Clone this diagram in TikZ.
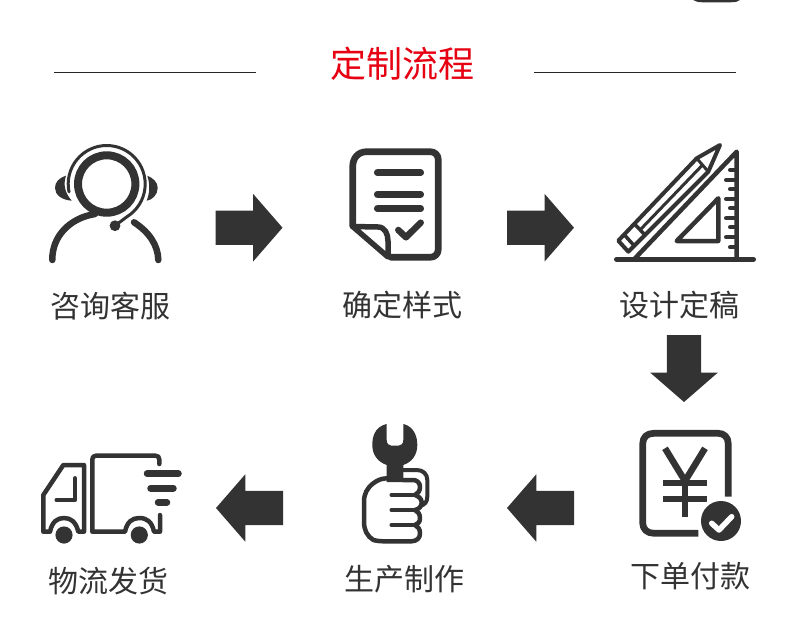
\documentclass[tikz,border=0pt]{standalone}
\usepackage{fontspec}
\setmainfont{Noto Sans CJK SC}
\usetikzlibrary{shapes.arrows}
\definecolor{ink}{HTML}{333333}
\definecolor{titlered}{HTML}{E60012}
\tikzset{
  blockarrow/.style={single arrow,fill=ink,draw=none,inner sep=0pt,outer sep=0pt,text width=34pt,text height=34pt,text depth=0pt,minimum height=67pt,
    single arrow head extend=16.5pt,single arrow tip angle=98,single arrow head indent=0pt,anchor=tip},
  flowlabel/.style={text=ink,font=\fontsize{30}{30}\selectfont,anchor=center,inner sep=0pt},
  icon/.style={draw=ink,line cap=round,line join=round,fill=none},
  rulebar/.style={draw=black!85,line width=1pt},
}
\begin{document}
\begin{tikzpicture}[x=1pt,y=-1pt]
\useasboundingbox (0,0) rectangle (790,634);
\fill[white] (0,0) rectangle (790,634);
% top sliver
\fill[ink] (693,0) .. controls (696,1.5) and (698,2.3) .. (703,2.3) -- (730,2.3) .. controls (736,2.3) and (738,1.5) .. (740,0) -- cycle;
% title
\node[text=titlered,font=\fontsize{36}{36}\selectfont,inner sep=0pt] (title) at (402,64) {定制流程};
\coordinate (la) at (54,72.5); \coordinate (lb) at (256,72.5);
\coordinate (lc) at (534,72.5); \coordinate (ld) at (736,72.5);
\draw[rulebar] (la) -- (lb);
\draw[rulebar] (lc) -- (ld);
% labels
\node[flowlabel] (l1) at (110.5,306) {咨询客服};
\node[flowlabel] (l2) at (402.5,305) {确定样式};
\node[flowlabel] (l3) at (679.5,305) {设计定稿};
\node[flowlabel] (l4) at (690,576) {下单付款};
\node[flowlabel] (l5) at (404.5,579) {生产制作};
\node[flowlabel] (l6) at (108.5,581) {物流发货};
% block arrows
\node[blockarrow] (a1) at (282.5,227.7) {};
\node[blockarrow] (a2) at (574,227.7) {};
\node[blockarrow,shape border rotate=270] (a3) at (684,402) {};
\node[blockarrow,shape border rotate=180] (a4) at (507,508) {};
\node[blockarrow,shape border rotate=180] (a5) at (216,508) {};
% --- person
\draw[icon,line width=8pt] (106.7,184) circle[radius=28.7];
\draw[icon,line width=3pt] plot[smooth,domain=192:-58,samples=40] ({106.7+38.5*cos(\x)},{184-38.5*sin(\x)}) -- (115,225.7);
\fill[ink] (115,225.7) circle[radius=5.4];
\fill[ink] (66,175.7) .. controls (59,178) and (55,182) .. (55,188) .. controls (55,195) and (62,200) .. (71.7,200.7) .. controls (65,193) and (63,185) .. (66,175.7) -- cycle;
\fill[ink] (147.3,175.7) .. controls (153,178) and (157.7,182) .. (157.7,188) .. controls (157.7,195) and (152,200) .. (146.7,200.7) .. controls (150,192) and (150,184) .. (147.3,175.7) -- cycle;
\draw[icon,line width=6.5pt] (52.3,260) .. controls (52,236) and (70,218) .. (95,214);
\draw[icon,line width=6.5pt] (134,222.3) .. controls (149,232) and (158,245) .. (158.3,260);
% --- document
\draw[icon,line width=6.7pt] (352.7,226) -- (352.7,167) .. controls (352.7,158) and (358,151.7) .. (367,151.7) -- (430,151.7) .. controls (435,151.7) and (438.3,155) .. (438.3,160) -- (438.3,249) .. controls (438.3,254) and (435,257.3) .. (430,257.3) -- (391,257.3);
\draw[icon,line width=5.5pt] (352.7,226.5) -- (378,227) .. controls (385,227) and (388,234) .. (388,241) -- (388,257) -- cycle;
\foreach \yy in {172.7,194.3,208.7}
  \draw[icon,line width=6.7pt] (377.3,\yy) -- (420.7,\yy);
\draw[icon,line width=6.5pt] (398.3,230) -- (406,237.3) -- (420.7,222.7);
% --- set square
\draw[icon,line width=5.5pt] (616.7,259.3) -- (753.3,259.3);
\draw[icon,line width=4.5pt] (635,258.3) -- (736.7,151.7) -- (736.7,259);
\draw[icon,line width=4.5pt] (676.7,241) -- (718.3,198.3) -- (718.3,241) -- cycle;
\foreach \yy/\xx in {170/730,180/726,189.3/730,199/726,208.3/730,218.3/726,227.3/730,237.3/726,247.3/730}
  \draw[icon,line width=4pt] (\xx,\yy) -- (736,\yy);
% pencil
\draw[icon,line width=4pt] (618.3,240.7) -- (628.3,251.7) -- (708.3,171.7) -- (720,145) -- (696.7,158.3) -- cycle;
\draw[icon,line width=3pt] (696.7,158.3) -- (708.3,171.7);
\draw[icon,line width=3.5pt] (624,234.5) -- (634,245.5);
\draw[icon,line width=3.5pt] (635,224.5) -- (645,235);
\draw[ink,line width=3pt] (640.5,229.5) -- (702.5,165);
% --- yen document
\draw[icon,line cap=butt,line width=6.7pt] (728.3,496.7) -- (728.3,444) .. controls (728.3,437) and (724,433.3) .. (718,433.3) -- (654,433.3) .. controls (647,433.3) and (642.7,437) .. (642.7,444) -- (642.7,523) .. controls (642.7,529) and (647,533.3) .. (654,533.3) -- (698.3,533.3);
\draw[icon,line cap=butt,line join=miter,line width=6.5pt] (665,448.3) -- (685,481) -- (705,448.3);
\draw[icon,line cap=butt,line width=6.5pt] (685,481) -- (685,516.7);
\draw[icon,line cap=butt,line width=6pt] (663.3,482.7) -- (706.7,482.7);
\draw[icon,line cap=butt,line width=6pt] (663.3,499) -- (706.7,499);
\fill[white] (721,521) circle[radius=24];
\fill[ink] (721,521) circle[radius=20];
\draw[draw=white,line cap=round,line join=round,line width=5.5pt] (711.7,523.3) -- (719,530) -- (731.7,516.7);
% --- wrench and fist
\fill[ink] (386.7,423.9) .. controls (374,427) and (372.3,438) .. (372.3,445) .. controls (372.3,455) and (378,462) .. (386.7,465) -- (386.7,482) -- (403.3,482) -- (403.3,465) .. controls (412,462) and (417.3,455) .. (417.3,445) .. controls (417.3,438) and (415,427) .. (403.3,423.9) -- (403.3,440) .. controls (403.3,444) and (401,445.5) .. (399,445.5) -- (391,445.5) .. controls (389,445.5) and (386.7,444) .. (386.7,440) -- cycle;
\draw[icon,line width=4.5pt] (386.7,478.3) .. controls (381,478.5) and (377,480.5) .. (373.3,483.3) .. controls (367,488) and (364,494) .. (364,501.7) -- (364,521.7) .. controls (364,530) and (367,536) .. (373.3,540) .. controls (377,541) and (381,541.3) .. (385,541.3) -- (411.7,541.3) .. controls (417,541) and (420,538) .. (420,533.3) .. controls (420,529) and (418,526.5) .. (415,525) .. controls (418,524) and (420,522) .. (420,518.3) .. controls (420,514) and (418,511.5) .. (415,510) .. controls (419,509) and (421.7,506.5) .. (421.7,502.3) .. controls (421.7,498.5) and (418,496) .. (415,495) .. controls (418,493.5) and (420,491) .. (420,486.7) .. controls (420,483) and (417,480) .. (413.3,480) -- (403.3,480);
\foreach \yy in {495,510,525}
  \draw[icon,line width=4.5pt] (391.7,\yy) -- (415,\yy);
\draw[icon,line width=4pt] (403.3,470) -- (416.7,470) .. controls (423,470) and (427.3,474) .. (427.3,480) -- (427.3,496.7) .. controls (427.3,501.5) and (425,504.5) .. (421,505.7);
% --- truck
\draw[icon,line width=4.5pt] (159.3,464) -- (159.3,459.5) .. controls (159.3,457) and (158,455.7) .. (155.5,455.7) -- (96,455.7) .. controls (93.5,455.7) and (92.3,457) .. (92.3,459.5) -- (92.3,531.7) -- (125,531.7) .. controls (127,522) and (132,518) .. (139.3,518) .. controls (147,518) and (152,522) .. (154,531.7) -- (160,531.7) -- (160,515);
\draw[icon,line width=4.5pt] (50,531.7) -- (43.3,531.7) -- (43.3,495) -- (63.3,465) -- (84,465) -- (84,531.7) -- (78.3,531.7) .. controls (76,522) and (71,518) .. (64,518) .. controls (57,518) and (52,522) .. (50,531.7);
\draw[icon,line width=4.5pt] (75,478.3) -- (75,500) -- (56.7,500);
\draw[icon,line width=6.5pt] (147,473.7) -- (178.5,473.7);
\draw[icon,line width=6.5pt] (150.5,488.3) -- (173.5,488.3);
\draw[icon,line width=6.5pt] (158,502.3) -- (167,502.3);
\fill[ink] (64,535) circle[radius=8.6];
\fill[ink] (139.3,535) circle[radius=8.6];
\end{tikzpicture}
\end{document}
